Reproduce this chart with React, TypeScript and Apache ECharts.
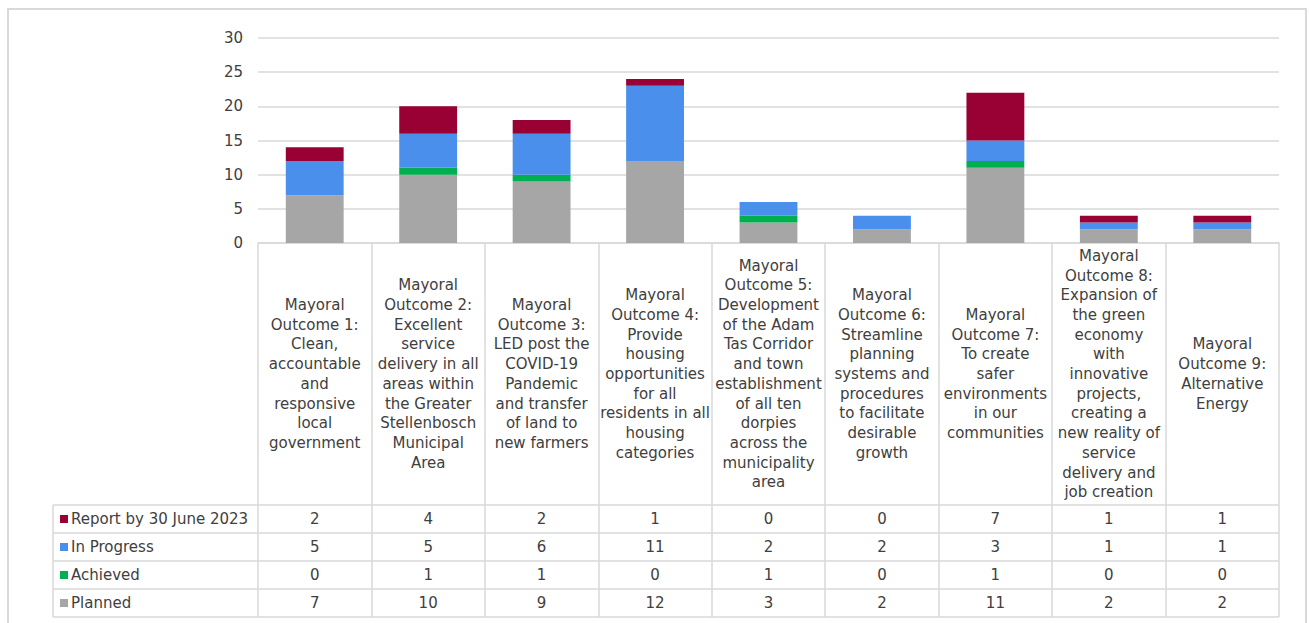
import React, { useEffect, useRef } from "react";
import * as echarts from "echarts";

const categories = [
  "Mayoral\nOutcome 1:\nClean,\naccountable\nand\nresponsive\nlocal\ngovernment",
  "Mayoral\nOutcome 2:\nExcellent\nservice\ndelivery in all\nareas within\nthe Greater\nStellenbosch\nMunicipal\nArea",
  "Mayoral\nOutcome 3:\nLED post the\nCOVID-19\nPandemic\nand transfer\nof land to\nnew farmers",
  "Mayoral\nOutcome 4:\nProvide\nhousing\nopportunities\nfor all\nresidents in all\nhousing\ncategories",
  "Mayoral\nOutcome 5:\nDevelopment\nof the Adam\nTas Corridor\nand town\nestablishment\nof all ten\ndorpies\nacross the\nmunicipality\narea",
  "Mayoral\nOutcome 6:\nStreamline\nplanning\nsystems and\nprocedures\nto facilitate\ndesirable\ngrowth",
  "Mayoral\nOutcome 7:\nTo create\nsafer\nenvironments\nin our\ncommunities",
  "Mayoral\nOutcome 8:\nExpansion of\nthe green\neconomy\nwith\ninnovative\nprojects,\ncreating a\nnew reality of\nservice\ndelivery and\njob creation",
  "Mayoral\nOutcome 9:\nAlternative\nEnergy",
];

const planned = [7, 10, 9, 12, 3, 2, 11, 2, 2];
const achieved = [0, 1, 1, 0, 1, 0, 1, 0, 0];
const inProgress = [5, 5, 6, 11, 2, 2, 3, 1, 1];
const reportBy = [2, 4, 2, 1, 0, 0, 7, 1, 1];

const seriesNames = ["Planned", "Achieved", "In Progress", "Report by 30 June 2023"];
const seriesColors = ["#a6a6a6", "#00b050", "#4a8fec", "#990033"];
const seriesData = [planned, achieved, inProgress, reportBy];

const yTicks = { min: 0, max: 30, interval: 5 };

export default function App() {
  const ref = useRef<HTMLDivElement>(null);

  useEffect(() => {
    if (!ref.current) return;
    const chart = echarts.init(ref.current, undefined, { renderer: "svg" });

    const W = 1309;
    const gridLeft = 258;
    const gridRight = 1279;
    const gridTop = 38;
    const axisY = 243;
    const tableTop = 505;
    const rowH = 28;
    const tableLeft = 53;
    const font = "DejaVu Sans";
    const txtColor = "#404040";
    const lineColor = "#d9d9d9";
    const n = categories.length;
    const colW = (gridRight - gridLeft) / n;

    // table rows: top row is the last series (Report), bottom is Planned
    const rowOrder = [3, 2, 1, 0];
    const graphics: any[] = [];

    graphics.push({
      type: "rect",
      shape: { x: 8, y: 9, width: 1298, height: 622 },
      style: { fill: "none", stroke: lineColor, lineWidth: 2 },
      silent: true,
    });

    for (let r = 0; r <= 4; r++) {
      const y = tableTop + r * rowH;
      graphics.push({
        type: "line",
        shape: { x1: tableLeft, y1: y, x2: gridRight, y2: y },
        style: { stroke: lineColor, lineWidth: 1.5 },
        silent: true,
      });
    }
    graphics.push({
      type: "line",
      shape: { x1: tableLeft, y1: tableTop, x2: tableLeft, y2: tableTop + 4 * rowH },
      style: { stroke: lineColor, lineWidth: 1.5 },
      silent: true,
    });

    rowOrder.forEach((si, r) => {
      const cy = tableTop + r * rowH + rowH / 2;
      graphics.push({
        type: "rect",
        shape: { x: 60, y: cy - 4, width: 8, height: 8 },
        style: { fill: seriesColors[si] },
        silent: true,
      });
      graphics.push({
        type: "text",
        x: 71,
        y: cy,
        style: {
          text: seriesNames[si],
          font: `15px "${font}"`,
          fill: txtColor,
          verticalAlign: "middle",
          align: "left",
        },
        silent: true,
      });
      seriesData[si].forEach((v, i) => {
        graphics.push({
          type: "text",
          x: gridLeft + (i + 0.5) * colW,
          y: cy,
          style: {
            text: String(v),
            font: `15px "${font}"`,
            fill: txtColor,
            verticalAlign: "middle",
            align: "center",
          },
          silent: true,
        });
      });
    });

    chart.setOption({
      animation: false,
      textStyle: { fontFamily: font },
      grid: {
        left: gridLeft,
        right: W - gridRight,
        top: gridTop,
        bottom: 623 - axisY,
        containLabel: false,
      },
      xAxis: {
        type: "category",
        data: categories,
        axisLine: { show: true, lineStyle: { color: lineColor, width: 1.5 } },
        axisTick: {
          show: true,
          length: tableTop + 4 * rowH - axisY,
          lineStyle: { color: lineColor, width: 1.5 },
        },
        axisLabel: {
          interval: 0,
          margin: (tableTop - axisY) / 2,
          verticalAlign: "middle",
          align: "center",
          lineHeight: 19.7,
          fontSize: 15,
          color: txtColor,
          fontFamily: font,
        },
      },
      yAxis: {
        type: "value",
        min: yTicks.min,
        max: yTicks.max,
        interval: yTicks.interval,
        axisLine: { show: false },
        axisTick: { show: false },
        axisLabel: { fontSize: 15, color: txtColor, margin: 15, fontFamily: font },
        splitLine: { lineStyle: { color: lineColor, width: 1.5 } },
      },
      series: seriesNames.map((name, si) => ({
        name,
        type: "bar",
        stack: "total",
        data: seriesData[si],
        barWidth: "51%",
        itemStyle: { color: seriesColors[si] },
      })),
      graphic: graphics,
    });

    return () => chart.dispose();
  }, []);

  return (
    <div
      ref={ref}
      style={{ position: "fixed", left: 0, top: 0, width: 1309, height: 623, background: "#fff" }}
    />
  );
}
